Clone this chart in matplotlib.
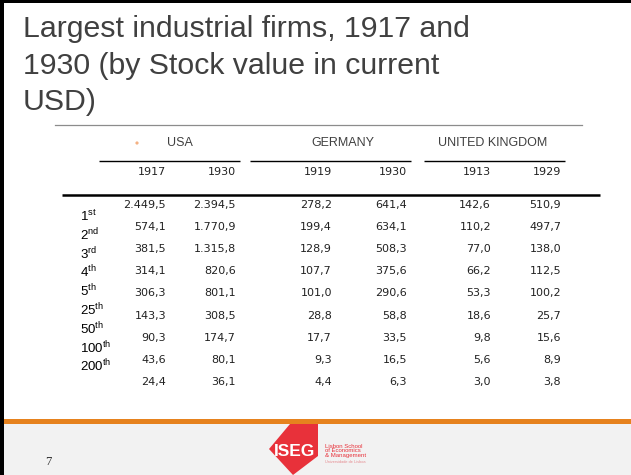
import matplotlib
matplotlib.use("Agg")
import matplotlib.pyplot as plt
from matplotlib.patches import Rectangle, Polygon, Circle
from matplotlib import font_manager

plt.rcParams['mathtext.fontset'] = 'custom'
plt.rcParams['mathtext.rm'] = 'Liberation Sans'
plt.rcParams['mathtext.it'] = 'Liberation Sans'

title_lines = ["Largest industrial firms, 1917 and",
               "1930 (by Stock value in current",
               "USD)"]
countries = ["USA", "GERMANY", "UNITED KINGDOM"]
years = ["1917", "1930", "1919", "1930", "1913", "1929"]
rank_nums = ["1", "2", "3", "4", "5", "25", "50", "100", "200"]
rank_sfx = ["st", "nd", "rd", "th", "th", "th", "th", "th", "th"]
usa_1917 = ["2.449,5", "574,1", "381,5", "314,1", "306,3", "143,3", "90,3", "43,6", "24,4"]
usa_1930 = ["2.394,5", "1.770,9", "1.315,8", "820,6", "801,1", "308,5", "174,7", "80,1", "36,1"]
ger_1919 = ["278,2", "199,4", "128,9", "107,7", "101,0", "28,8", "17,7", "9,3", "4,4"]
ger_1930 = ["641,4", "634,1", "508,3", "375,6", "290,6", "58,8", "33,5", "16,5", "6,3"]
uk_1913 = ["142,6", "110,2", "77,0", "66,2", "53,3", "18,6", "9,8", "5,6", "3,0"]
uk_1929 = ["510,9", "497,7", "138,0", "112,5", "100,2", "25,7", "15,6", "8,9", "3,8"]
columns = [usa_1917, usa_1930, ger_1919, ger_1930, uk_1913, uk_1929]

W, H = 631, 475
fig = plt.figure(figsize=(W / 100, H / 100), dpi=100)
ax = fig.add_axes([0, 0, 1, 1])
ax.set_xlim(0, W)
ax.set_ylim(H, 0)
ax.axis('off')

sans = 'Liberation Sans'
numfont = 'DejaVu Sans'
grey = '#404040'

names = {f.name for f in font_manager.fontManager.ttflist}
if 'Liberation Sans Narrow' in names:
    title_font, title_size = 'Liberation Sans Narrow', 27
else:
    title_font, title_size = 'Liberation Sans', 21.8

# footer
ax.add_patch(Rectangle((0, 424), W, H - 424, color='#F2F2F2', lw=0))
ax.add_patch(Rectangle((0, 419), W, 5, color='#E6821E', lw=0))
# borders
ax.add_patch(Rectangle((0, 0), 3.5, H, color='black', lw=0))
ax.add_patch(Rectangle((0, 0), W, 2.5, color='black', lw=0))

# title
for i, line in enumerate(title_lines):
    ax.text(23, 37 + i * 36.5, line, fontsize=title_size, family=title_font, color=grey,
            ha='left', va='baseline')
ax.plot([55, 582], [125, 125], color='#8c8c8c', lw=0.9)

# header
group_centers = [180, 343, 493]
for c, xc in zip(countries, group_centers):
    ax.text(xc, 143, c, fontsize=9, family=sans, color=grey, ha='center', va='center')
ax.add_patch(Circle((137, 143), 1.6, color='#F4B183', lw=0))
group_lines = [(99, 240), (250, 411), (424, 565)]
for x0, x1 in group_lines:
    ax.plot([x0, x1], [160.5, 160.5], color='black', lw=1.0, solid_capstyle='butt')

col_right = [166, 236, 332, 407, 491, 561]
for y, xr in zip(years, col_right):
    ax.text(xr, 172, y, fontsize=8, family=numfont, color='#222222', ha='right', va='center')

ax.plot([62, 600], [195, 195], color='black', lw=1.8, solid_capstyle='butt')

# data rows
for ci, col in enumerate(columns):
    for ri, v in enumerate(col):
        y = 205 + ri * 22.1
        ax.text(col_right[ci], y, v, fontsize=8, family=numfont, color='#222222',
                ha='right', va='center')

# rank labels
for ri, (n, s) in enumerate(zip(rank_nums, rank_sfx)):
    y = 216 + ri * 18.8
    ax.text(80, y, n + r"$^{\mathrm{" + s + "}}$", fontsize=9.5, family=sans,
            color='black', ha='left', va='center')

# footer page number
ax.text(45, 462, "7", fontsize=9, family='Liberation Serif', color='#333333',
        ha='left', va='center')

# logo
red = '#E8313A'
ax.add_patch(Polygon([(290, 424), (318, 424), (318, 456), (293, 475), (269, 449)],
                     closed=True, color=red, lw=0))
ax.text(295, 451, "ISEG", fontsize=12.5, family='Liberation Sans Narrow' if 'Liberation Sans Narrow' in names else sans,
        weight='bold', color='white', ha='center', va='center')
logo_lines = ["Lisbon School", "of Economics", "& Management"]
for i, t in enumerate(logo_lines):
    ax.text(325, 446 + i * 5, t, fontsize=4.3, family=sans, color=red,
            ha='left', va='center')
ax.text(325, 462, "Universidade de Lisboa", fontsize=2.8, family=sans, color='#e58a8f',
        ha='left', va='center')

fig.savefig("out.png", dpi=100)
